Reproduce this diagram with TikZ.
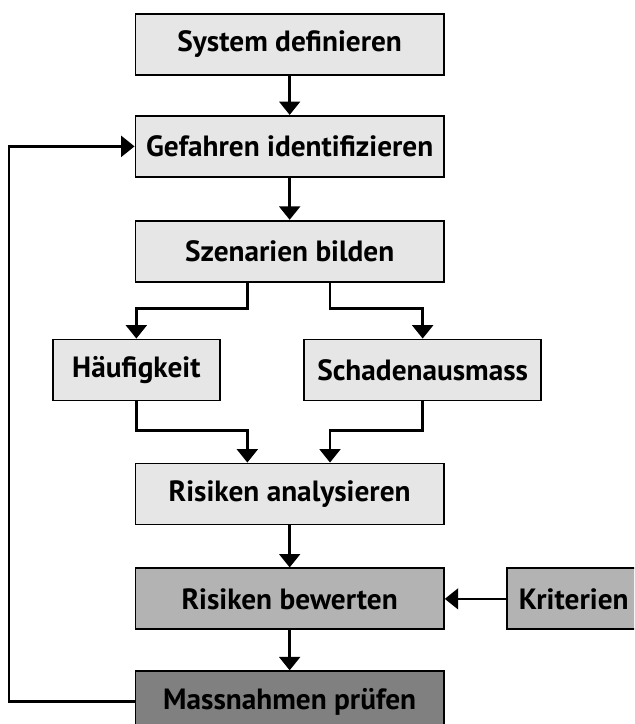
\documentclass[tikz,border=0pt]{standalone}
\usepackage{fontspec}
\setmainfont{PT Sans}
\usepackage{tikz}
\usetikzlibrary{arrows.meta, positioning}
\definecolor{boxlight}{RGB}{230, 230, 230}
\definecolor{boxmid}{RGB}{179, 179, 179}
\definecolor{boxdark}{RGB}{128, 128, 128}

\begin{document}
\begin{tikzpicture}[
    stage/.style={rectangle, draw=black, line width=1.6pt, fill=boxlight, minimum width=9.25cm, minimum height=1.83cm, inner sep=0pt, font=\fontsize{25}{30}\selectfont\bfseries},
    factor/.style={stage, minimum width=5cm},
    arrow/.style={-{Triangle[length=0.4cm, width=0.62cm]}, line width=2.2pt, black}
]
    \useasboundingbox (0,0) rectangle (19.02,-21.72);
    \clip (0,0) rectangle (19.02,-21.72);

    % Main chain
    \node[stage] (sys) at (8.69,-1.335) {System definieren};
    \node[stage, below=1.17cm of sys] (gef) {Gefahren identifizieren};
    \node[stage, below=1.26cm of gef] (szen) {Szenarien bilden};
    \node[factor] (haeuf) at (4.09,-11.1) {Häufigkeit};
    \node[factor, minimum width=7.1cm] (schaden) at (12.68,-11.1) {Schadenausmass};
    \node[stage] (ana) at (8.69,-14.82) {Risiken analysieren};
    \node[stage, fill=boxmid, below=1.26cm of ana] (bew) {Risiken bewerten};
    \node[stage, fill=boxmid, minimum width=4.02cm, right=1.83cm of bew] (krit) {Kriterien};
    \node[stage, fill=boxdark, below=1.2cm of bew] (mass) {Massnahmen prüfen};

    % Connectors
    \draw[arrow] (sys) -- (gef);
    \draw[arrow] (gef) -- (szen);
    \draw[arrow] ([xshift=-1.27cm]szen.south) -- ++(0,-0.78) -| (haeuf.north);
    \draw[arrow] ([xshift=1.21cm]szen.south) -- ++(0,-0.78) -| (schaden.north);
    \draw[arrow] (haeuf.south) -- ++(0,-0.87) -| ([xshift=-1.27cm]ana.north);
    \draw[arrow] (schaden.south) -- ++(0,-0.87) -| ([xshift=1.21cm]ana.north);
    \draw[arrow] (ana) -- (bew);
    \draw[arrow] (krit) -- (bew);
    \draw[arrow] (bew) -- (mass);
    \draw[arrow] (mass.west) -- ++(-3.77,0) |- (gef.west);
\end{tikzpicture}
\end{document}
